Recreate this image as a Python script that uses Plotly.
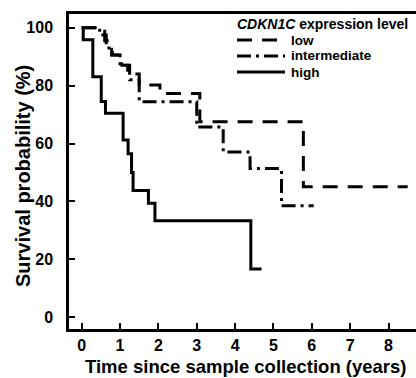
import plotly.graph_objects as go

# ---- data ----
low_t = [0, 0.6, 0.78, 1.05, 1.2, 1.5, 2.04, 3.08, 5.78, 8.5]
low_s = [100, 95.5, 90.6, 87.0, 84.0, 80.2, 77.3, 67.5, 45.1, 45.1]

inter_t = [0, 0.47, 0.64, 0.8, 1.0, 1.25, 1.5, 3.0, 3.69, 4.39, 5.21, 6.05]
inter_s = [100, 97.5, 93.0, 90.6, 87.0, 82.0, 74.4, 65.7, 57.1, 51.4, 38.5, 38.5]

high_t = [0, 0.04, 0.29, 0.51, 0.62, 1.08, 1.21, 1.30, 1.34, 1.74, 1.91, 4.41, 4.69]
high_s = [100, 95.8, 83.1, 74.5, 70.5, 61.2, 56.5, 50.0, 43.8, 39.4, 33.3, 16.7, 16.7]

x_ticks = [0, 1, 2, 3, 4, 5, 6, 7, 8]
y_ticks = [0, 20, 40, 60, 80, 100]

series_names = ["low", "intermediate", "high"]
legend_title = "<i>CDKN1C</i> expression level"
x_title = "Time since sample collection (years)"
y_title = "Survival probability (%)"

# ---- layout geometry ----
W, H = 416, 378
L, R, T, B = 69, 416, 14, 329


def xp(px):
    return (px - L) / (R - L)


def yp(py):
    return (B - py) / (B - T)


FONT = "Liberation Sans"
dashes = ["15px,10px", "14px,5px,3px,5px", "solid"]

fig = go.Figure()
for name, t, s, d in zip(series_names, [low_t, inter_t, high_t],
                         [low_s, inter_s, high_s], dashes):
    fig.add_trace(go.Scatter(
        x=t, y=s, mode="lines", name=name, showlegend=False,
        line=dict(shape="hv", color="black", width=3, dash=d),
    ))

fig.update_layout(
    width=W, height=H,
    margin=dict(l=L, r=W - R, t=T, b=H - B, pad=0),
    paper_bgcolor="white", plot_bgcolor="white",
    font=dict(family=FONT, color="black"),
)
fig.update_xaxes(
    range=[-0.331, 8.717], tickvals=x_ticks, ticks="inside", ticklen=6,
    tickwidth=2, tickcolor="black", showline=True, linewidth=2.5,
    linecolor="black", mirror=True, showgrid=False, zeroline=False,
    tickfont=dict(family=FONT, size=16, weight="bold", color="black"),
    ticklabelstandoff=0,
)
fig.update_yaxes(
    range=[-4.04, 104.73], tickvals=y_ticks, ticks="inside", ticklen=6,
    tickwidth=2, tickcolor="black", showline=True, linewidth=2.5,
    linecolor="black", mirror=False, showgrid=False, zeroline=False,
    tickfont=dict(family=FONT, size=16, weight="bold", color="black"),
    ticklabelstandoff=10,
)

ann = []
ann.append(dict(text=x_title, xref="paper", yref="paper", x=xp(246), y=yp(366),
                xanchor="center", yanchor="middle", showarrow=False,
                font=dict(family=FONT, size=18.5, weight="bold", color="black")))
ann.append(dict(text=y_title, xref="paper", yref="paper", x=xp(23), y=yp(176),
                xanchor="center", yanchor="middle", showarrow=False, textangle=-90,
                font=dict(family=FONT, size=20, weight="bold", color="black")))
ann.append(dict(text=legend_title, xref="paper", yref="paper", x=xp(235), y=yp(24),
                xanchor="left", yanchor="middle", showarrow=False,
                font=dict(family=FONT, size=14, weight="bold", color="black")))
rows = [40, 56, 72]
for name, d, ry in zip(series_names, dashes, rows):
    ann.append(dict(text=name, xref="paper", yref="paper", x=xp(289), y=yp(ry),
                    xanchor="left", yanchor="middle", showarrow=False,
                    font=dict(family=FONT, size=13.5, weight="bold", color="black")))
    fig.add_shape(type="line", xref="paper", yref="paper",
                  x0=xp(237), x1=xp(285), y0=yp(ry), y1=yp(ry),
                  line=dict(color="black", width=3, dash=d))
fig.update_layout(annotations=ann)

fig.write_html("out.html")
